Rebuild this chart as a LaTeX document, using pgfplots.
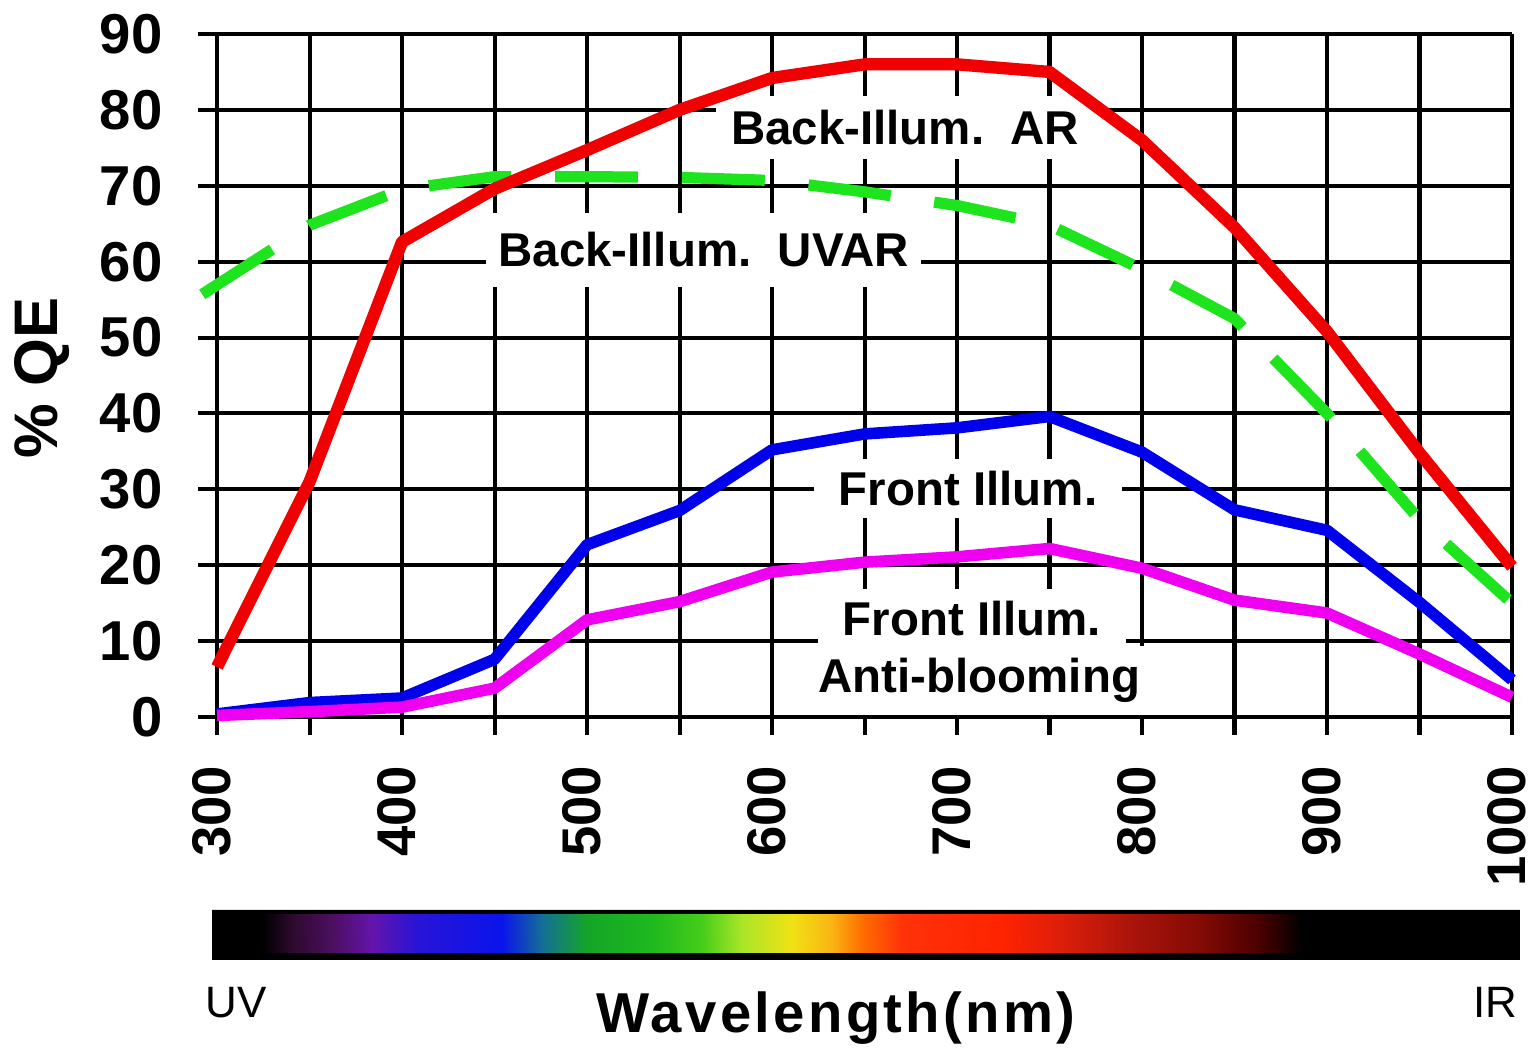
\documentclass[border=0pt]{standalone}
\usepackage{fontspec}
\setmainfont{Liberation Sans}
\usepackage{pgfplots}
\pgfplotsset{compat=1.18}
\definecolor{cRed}{RGB}{240,0,0}
\definecolor{cGreen}{RGB}{30,228,30}
\definecolor{cBlue}{RGB}{0,0,235}
\definecolor{cMag}{RGB}{240,0,240}
\begin{document}
\begin{tikzpicture}
\path[use as bounding box] (-1.98,-3.14) rectangle (13.37,7.35);
\begin{axis}[
  name=main,
  at={(0,0)}, anchor=south west,
  scale only axis, width=13.14cm, height=7.01cm,
  xmin=289.7, xmax=1000, ymin=-2.37, ymax=90,
  clip=false,
  axis line style={draw=none},
  major tick length=0pt,
  tick style={draw=none},
  grid=major,
  grid style={black, line width=1.15pt},
  xtick={300,350,...,1000},
  xticklabels={300,,400,,500,,600,,700,,800,,900,,1000},
  ytick={0,10,...,90},
  yticklabels={0,10,20,30,40,50,60,70,80,90},
  yticklabel style={font=\bfseries\fontsize{16}{16}\selectfont},
  xticklabel style={font=\bfseries\fontsize{15.5}{15.5}\selectfont, yshift=-3mm, xshift=-0.5mm, rotate=90, anchor=east, inner sep=0pt},
  yticklabel style={xshift=-3.5mm, anchor=east, inner sep=0pt},
  ylabel={\% QE},
  ylabel style={at={(axis description cs:-0.1187,0.509)}, anchor=center, font=\bfseries\fontsize{17.5}{17.5}\selectfont},
]
\node[fill=white, inner xsep=1.5mm, inner ysep=1.4mm, anchor=base, font=\bfseries\fontsize{13.5}{16}\selectfont] at (axis cs:672,75.4) {Back-Illum.\ \ AR};
\node[fill=white, inner xsep=1.2mm, inner ysep=2mm, anchor=base, font=\bfseries\fontsize{13.5}{16}\selectfont] at (axis cs:563,59.3) {Back-Illum.\ \ UVAR};
\node[fill=white, inner xsep=2.5mm, inner ysep=1.2mm, anchor=base, font=\bfseries\fontsize{13.5}{16}\selectfont] at (axis cs:706,27.9) {Front Illum.};
\node[fill=white, inner xsep=2.5mm, inner ysep=1.2mm, anchor=base, font=\bfseries\fontsize{13.5}{16}\selectfont] at (axis cs:708,10.8) {Front Illum.};
\node[fill=white, inner xsep=1mm, inner ysep=1.2mm, anchor=base, font=\bfseries\fontsize{13.5}{16}\selectfont] at (axis cs:712,3.2) {Anti-blooming};
% Back-Illum. UVAR (green dashed)
\addplot[cGreen, line width=3.2pt, dash pattern=on 23.6pt off 12.5pt] coordinates {
(292,55.7) (350,64.8) (400,69.5) (450,71.2) (500,71.2) (550,71.1) (600,70.7)
(650,69.2) (700,67.4) (750,64.8) (800,59) (850,52.5) (900,40) (950,26) (1000,15)};
% Back-Illum. AR (red)
\addplot[cRed, line width=3.5pt, line join=round] coordinates {
(300,6.6) (350,31) (400,62.6) (450,69.6) (500,74.7) (550,80) (600,84.2)
(650,86) (700,86) (750,85) (800,76) (850,64.5) (900,50.8) (950,34.8) (1000,19.8)};
% Front Illum. (blue)
\addplot[cBlue, line width=3.3pt, line join=round] coordinates {
(300,0.4) (350,1.9) (400,2.5) (450,7.6) (500,22.7) (550,27.2) (600,35.2)
(650,37.3) (700,38.1) (750,39.6) (800,34.9) (850,27.3) (900,24.6) (950,15.1) (1000,4.9)};
% Front Illum. Anti-blooming (magenta)
\addplot[cMag, line width=3.3pt, line join=round] coordinates {
(300,0.2) (350,0.7) (400,1.3) (450,3.8) (500,12.8) (550,15.2) (600,19.1)
(650,20.4) (700,21.1) (750,22.2) (800,19.6) (850,15.4) (900,13.7) (950,8.3) (1000,2.6)};
\end{axis}
\begin{axis}[
  at={(0.14cm,-2.25cm)}, anchor=south west,
  scale only axis, width=13.08cm, height=0.5cm,
  xmin=212, xmax=1520, ymin=0, ymax=1, zmin=-1, zmax=1,
  hide axis, view={0}{90},
  colormap={spec}{rgb255(0pt)=(0,0,0) rgb255(50pt)=(0,0,0) rgb255(80pt)=(45,10,45)
    rgb255(120pt)=(75,15,95) rgb255(160pt)=(100,20,170) rgb255(205pt)=(40,20,215)
    rgb255(290pt)=(10,20,235) rgb255(330pt)=(20,110,150) rgb255(375pt)=(20,165,40)
    rgb255(440pt)=(30,185,30) rgb255(490pt)=(70,205,25) rgb255(530pt)=(170,230,40)
    rgb255(580pt)=(240,225,20) rgb255(620pt)=(250,180,20) rgb255(650pt)=(255,110,0)
    rgb255(690pt)=(255,50,10) rgb255(790pt)=(255,35,0) rgb255(850pt)=(220,30,10)
    rgb255(920pt)=(170,20,10) rgb255(990pt)=(130,10,5) rgb255(1050pt)=(70,0,0)
    rgb255(1090pt)=(0,0,0) rgb255(1308pt)=(0,0,0)},
]
\addplot3[fill=black, draw=none] coordinates {(212,0,0) (1520,0,0) (1520,1,0) (212,1,0) (212,0,0)};
\addplot3[surf, shader=interp, point meta=x, mesh/rows=2] coordinates {
(212,0.14,0) (262,0.14,0) (292,0.14,0) (332,0.14,0) (372,0.14,0) (417,0.14,0) (502,0.14,0) (542,0.14,0)
(587,0.14,0) (652,0.14,0) (702,0.14,0) (742,0.14,0) (792,0.14,0) (832,0.14,0) (862,0.14,0) (902,0.14,0)
(1002,0.14,0) (1062,0.14,0) (1132,0.14,0) (1202,0.14,0) (1262,0.14,0) (1302,0.14,0) (1520,0.14,0)

(212,0.92,0) (262,0.92,0) (292,0.92,0) (332,0.92,0) (372,0.92,0) (417,0.92,0) (502,0.92,0) (542,0.92,0)
(587,0.92,0) (652,0.92,0) (702,0.92,0) (742,0.92,0) (792,0.92,0) (832,0.92,0) (862,0.92,0) (902,0.92,0)
(1002,0.92,0) (1062,0.92,0) (1132,0.92,0) (1202,0.92,0) (1262,0.92,0) (1302,0.92,0) (1520,0.92,0)
};
\end{axis}
\node[anchor=base west, inner sep=0pt, font=\fontsize{12.5}{12.5}\selectfont] at (0.07,-2.83) {UV};
\node[anchor=base east, inner sep=0pt, font=\fontsize{12.5}{12.5}\selectfont] at (13.2,-2.83) {IR};
\node[anchor=base, inner sep=0pt, font=\bfseries\fontsize{16}{16}\selectfont\addfontfeature{LetterSpace=6}] at (6.38,-2.98) {Wavelength(nm)};
\end{tikzpicture}
\end{document}
